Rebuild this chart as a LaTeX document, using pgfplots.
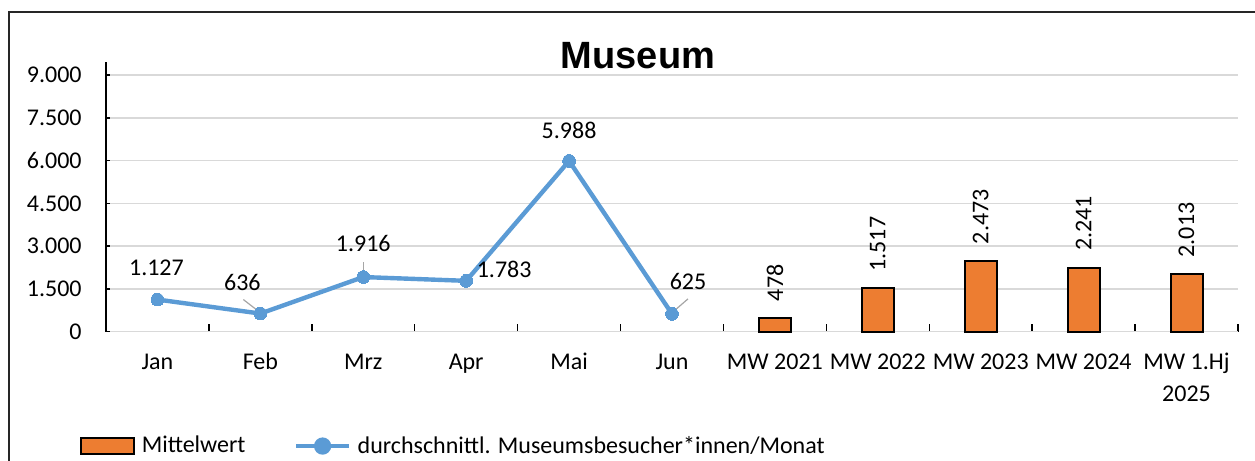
\documentclass[border=0pt]{standalone}
\usepackage{fontspec}
\setmainfont{Carlito}
\newfontfamily\titlefont{Liberation Sans}
\usepackage{pgfplots}
\usepackage{pgfplotstable}
\pgfplotsset{compat=1.18}

\definecolor{mwOrange}{HTML}{ED7D31}
\definecolor{lnBlue}{HTML}{5B9BD5}
\definecolor{gridGray}{HTML}{D9D9D9}
\definecolor{leadGray}{HTML}{A6A6A6}

\pgfkeys{/pgf/number format/.cd,fixed,precision=0,1000 sep={.},assume math mode=true}

% month values, label offsets (dx,dy) and leader lines (a -> b), in pt
\pgfplotstableread{
x y dx dy lax lay lbx lby
0 1127 -0.5 16 0 0 0 0
1 636 -9 15.3 -8.5 7 -1 1.2
2 1916 0 17 0 7.5 0 2.5
3 1783 19 5.5 0 0 0 0
4 5988 0 15.5 0 0 0 0
5 625 8 16 0.5 1 8 7.5
}\monthdata

\pgfplotstableread{
x y
6 478
7 1517
8 2473
9 2241
10 2013
}\mwdata

\begin{document}
\begin{tikzpicture}
\useasboundingbox (0,0) rectangle (627.5pt,230.5pt);
\draw[line width=1pt, black!85] (4.7pt,-20pt) -- (4.7pt,224.6pt) -- (650pt,224.6pt);
\node[font=\titlefont\bfseries\fontsize{19}{22}\selectfont, anchor=base] at (319pt,196pt) {Museum};

\begin{axis}[
  at={(53pt,64.65pt)}, anchor=south west,
  scale only axis, width=566pt, height=134.85pt,
  xmin=-0.5, xmax=10.5, ymin=0, ymax=9456,
  clip=false,
  axis x line*=bottom, axis y line*=left,
  axis line style={black, line width=0.75pt},
  tick align=inside,
  major tick length=4pt,
  tick style={black, line width=0.75pt},
  ytick=\empty,
  extra y ticks={0,1500,...,9000},
  extra y tick style={major tick length=2pt, grid=major},
  scaled y ticks=false,
  grid style={gridGray, line width=0.75pt},
  xtick={-0.5,0.5,...,10.5},
  xticklabels={},
  extra x ticks={0,1,...,10},
  extra x tick labels={Jan,Feb,Mrz,Apr,Mai,Jun,MW 2021,MW 2022,MW 2023,MW 2024,
    {\begin{tabular}[t]{@{}c@{}}MW 1.Hj\\2025\end{tabular}}},
  extra x tick style={major tick length=0pt},
  xticklabel style={anchor=base, inner sep=0pt, yshift=-18.65pt,
    font=\fontsize{12}{16.5}\selectfont},
  yticklabel style={anchor=east, inner sep=0pt, xshift=-12pt, font=\fontsize{12}{14}\selectfont},
  legend columns=2,
  legend style={at={(-0.023,-0.424)}, anchor=west, draw=none, fill=none, inner sep=0pt,
    font=\fontsize{12}{14}\selectfont, nodes={inner xsep=3.2pt, inner ysep=1.5pt},
    /tikz/every even column/.append style={column sep=21pt}},
  legend cell align=left,
]
\addplot[ybar, bar width=16pt, fill=mwOrange, draw=black, line width=1pt,
  nodes near coords,
  every node near coord/.append style={rotate=90, anchor=west, inner xsep=8pt, inner ysep=0pt,
    text=black, font=\fontsize{12}{14}\selectfont},
  legend image code/.code={\draw[fill=mwOrange,draw=black,line width=1pt] (0pt,-4pt) rectangle (26.5pt,4pt);}
] table[x=x,y=y]{\mwdata};
\addlegendentry{Mittelwert}

\addplot[only marks, scatter, mark=*, mark options={draw=none,fill=none},
  visualization depends on={\thisrow{lax} \as \lax},
  visualization depends on={\thisrow{lay} \as \lay},
  visualization depends on={\thisrow{lbx} \as \lbx},
  visualization depends on={\thisrow{lby} \as \lby},
  scatter/@pre marker code/.code={\draw[leadGray, line width=0.6pt] (\lax pt,\lay pt) -- (\lbx pt,\lby pt);},
  scatter/@post marker code/.code={},
  forget plot
] table[x=x,y=y]{\monthdata};

\addplot[lnBlue, line width=2.2pt, mark=*, mark size=3.2pt, mark options={fill=lnBlue, draw=lnBlue, line width=0pt},
  nodes near coords,
  visualization depends on={\thisrow{dx} \as \ldx},
  visualization depends on={\thisrow{dy} \as \ldy},
  every node near coord/.append style={text=black, anchor=center, xshift=\ldx pt, yshift=\ldy pt,
    font=\fontsize{12}{14}\selectfont},
  legend image code/.code={\draw[lnBlue,line width=2.2pt] (0pt,0pt) -- (26.5pt,0pt); \fill[lnBlue] (13.25pt,0pt) circle (3.2pt);}
] table[x=x,y=y]{\monthdata};
\addlegendentry{durchschnittl. Museumsbesucher*innen/Monat}
\end{axis}
\end{tikzpicture}
\end{document}
